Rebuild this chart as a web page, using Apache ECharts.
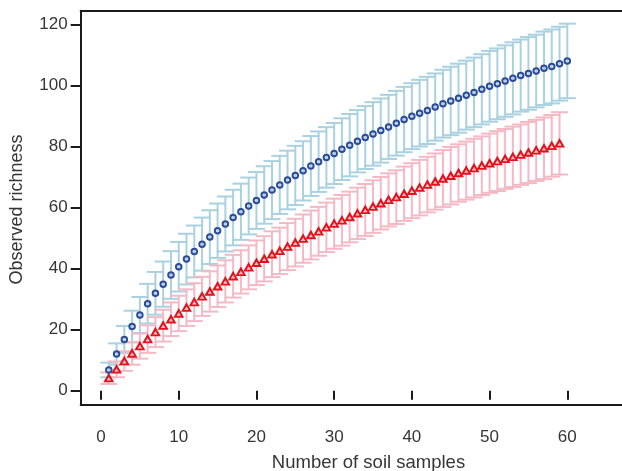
<!DOCTYPE html>
<html>
<head>
<meta charset="utf-8">
<script src="https://cdn.jsdelivr.net/npm/echarts@6/dist/echarts.min.js"></script>
<style>
  html, body { margin: 0; padding: 0; background: #ffffff; }
  #chart { width: 622px; height: 471px; }
</style>
</head>
<body>
<div id="chart"></div>
<script>
// Rarefaction curves: mean observed richness (± SD) against number of soil samples
const blueSamples = [1,2,3,4,5,6,7,8,9,10,11,12,13,14,15,16,17,18,19,20,
  21,22,23,24,25,26,27,28,29,30,31,32,33,34,35,36,37,38,39,40,
  41,42,43,44,45,46,47,48,49,50,51,52,53,54,55,56,57,58,59,60];
const blueMean = [6.8,12.0,16.8,21.0,24.8,28.5,31.9,34.9,37.9,40.6,
  43.1,45.6,48.0,50.3,52.4,54.6,56.7,58.6,60.5,62.3,
  64.1,65.7,67.4,69.0,70.5,72.0,73.6,75.0,76.4,77.7,
  79.1,80.4,81.7,82.9,84.1,85.2,86.4,87.6,88.8,89.9,
  90.9,91.8,92.9,94.0,94.9,95.8,96.8,97.7,98.7,99.7,
  100.5,101.4,102.3,103.2,103.9,104.7,105.6,106.2,107.1,108.0];
const blueSd = [2.4,3.5,4.4,5.2,5.9,6.5,7.0,7.4,7.8,8.1,
  8.3,8.5,8.7,8.8,8.9,9.0,9.1,9.2,9.3,9.3,
  9.4,9.5,9.5,9.6,9.7,9.7,9.8,9.9,9.9,10.0,
  10.1,10.2,10.2,10.3,10.4,10.5,10.5,10.6,10.7,10.8,
  10.9,11.0,11.0,11.1,11.2,11.3,11.3,11.4,11.5,11.6,
  11.6,11.7,11.8,11.8,11.9,11.9,12.0,12.1,12.1,12.2];

const redSamples = [1,2,3,4,5,6,7,8,9,10,11,12,13,14,15,16,17,18,19,20,
  21,22,23,24,25,26,27,28,29,30,31,32,33,34,35,36,37,38,39,40,
  41,42,43,44,45,46,47,48,49,50,51,52,53,54,55,56,57,58,59];
const redMean = [4.1,7.0,9.7,12.2,14.6,16.9,19.2,21.3,23.4,25.3,
  27.2,29.0,30.9,32.5,34.2,35.8,37.5,38.9,40.4,41.9,
  43.2,44.7,45.8,47.2,48.5,49.8,51.0,52.2,53.5,54.7,
  55.8,56.9,58.1,59.2,60.3,61.4,62.5,63.4,64.5,65.5,
  66.5,67.5,68.5,69.5,70.4,71.3,72.1,72.9,73.7,74.5,
  75.2,75.9,76.6,77.3,78.0,78.7,79.4,80.2,81.0];
const redSd = [1.9,2.6,3.2,3.7,4.1,4.5,4.9,5.2,5.5,5.8,
  6.0,6.2,6.4,6.6,6.8,6.9,7.0,7.1,7.2,7.3,
  7.4,7.5,7.6,7.7,7.8,7.9,8.0,8.0,8.1,8.2,
  8.3,8.3,8.4,8.5,8.6,8.6,8.7,8.8,8.9,9.0,
  9.1,9.1,9.2,9.3,9.4,9.4,9.5,9.6,9.6,9.7,
  9.8,9.8,9.9,9.9,10.0,10.0,10.1,10.1,10.2];

const xTicks = [0, 10, 20, 30, 40, 50, 60];
const yTicks = [0, 20, 40, 60, 80, 100, 120];

const FONT = "'Liberation Sans', Arial, Helvetica, sans-serif";
const TEXT = '#363636';
const AXIS = '#1a1a1a';

function points(xs, ys) {
  return xs.map((x, i) => [x, ys[i]]);
}
function bars(xs, ys, sd) {
  return xs.map((x, i) => [x, ys[i] - sd[i], ys[i] + sd[i]]);
}
function errorBars(color) {
  const half = 8.5;
  return function (params, api) {
    const x = api.value(0);
    const lo = api.coord([x, api.value(1)]);
    const hi = api.coord([x, api.value(2)]);
    const style = { stroke: color, lineWidth: 2, fill: null };
    return {
      type: 'group',
      children: [
        { type: 'line', shape: { x1: lo[0], y1: lo[1], x2: hi[0], y2: hi[1] }, style },
        { type: 'line', shape: { x1: hi[0] - half, y1: hi[1], x2: hi[0] + half, y2: hi[1] }, style },
        { type: 'line', shape: { x1: lo[0] - half, y1: lo[1], x2: lo[0] + half, y2: lo[1] }, style }
      ]
    };
  };
}

const xRange = { min: -2.615, max: 67.04 };
const chart = echarts.init(document.getElementById('chart'), null, { renderer: 'canvas' });

chart.setOption({
  animation: false,
  backgroundColor: '#ffffff',
  grid: { left: 80.7, top: 10.7, right: -2, bottom: 66.5, containLabel: false },
  xAxis: [
    { // bottom frame line
      type: 'value', position: 'bottom', min: xRange.min, max: xRange.max,
      axisLine: { show: true, onZero: false, lineStyle: { color: AXIS, width: 2 } },
      axisTick: { show: false }, axisLabel: { show: false }, splitLine: { show: false }
    },
    { // ticks and labels, set slightly below the frame
      type: 'value', position: 'bottom', offset: 3, min: xRange.min, max: xRange.max,
      axisLine: { show: false },
      axisTick: { show: true, length: 9, customValues: xTicks, lineStyle: { color: AXIS, width: 2 } },
      axisLabel: { show: true, customValues: xTicks, margin: 21, color: TEXT, fontSize: 17, fontFamily: FONT },
      splitLine: { show: false }
    },
    { // top frame line
      type: 'value', position: 'top', min: xRange.min, max: xRange.max,
      axisLine: { show: true, onZero: false, lineStyle: { color: AXIS, width: 2 } },
      axisTick: { show: false }, axisLabel: { show: false }, splitLine: { show: false }
    }
  ],
  yAxis: {
    type: 'value', min: -4.52, max: 124.45,
    axisLine: { show: true, onZero: false, lineStyle: { color: AXIS, width: 2 } },
    axisTick: { show: true, length: 10, customValues: yTicks, lineStyle: { color: AXIS, width: 2 } },
    axisLabel: { show: true, customValues: yTicks, margin: 13, color: TEXT, fontSize: 17, fontFamily: FONT },
    splitLine: { show: false }
  },
  graphic: [
    {
      type: 'text', x: 368.5, y: 463,
      style: { text: 'Number of soil samples', fill: TEXT, font: '18.5px ' + FONT,
               textAlign: 'center', textVerticalAlign: 'middle' }
    },
    {
      type: 'text', x: 17, y: 209.5, rotation: Math.PI / 2,
      style: { text: 'Observed richness', fill: TEXT, font: '18px ' + FONT,
               textAlign: 'center', textVerticalAlign: 'middle' }
    }
  ],
  series: [
    {
      type: 'custom', name: 'blue sd', xAxisIndex: 0,
      renderItem: errorBars('#a9d1df'),
      encode: { x: 0, y: [1, 2] },
      data: bars(blueSamples, blueMean, blueSd), z: 1
    },
    {
      type: 'custom', name: 'red sd', xAxisIndex: 0,
      renderItem: errorBars('#f5b9c6'),
      encode: { x: 0, y: [1, 2] },
      data: bars(redSamples, redMean, redSd), z: 2
    },
    {
      type: 'scatter', name: 'blue', xAxisIndex: 0,
      symbol: 'circle', symbolSize: 5.5,
      itemStyle: { color: 'rgba(255,255,255,0)', borderColor: '#2c4b9b', borderWidth: 2, opacity: 1 },
      data: points(blueSamples, blueMean), z: 3
    },
    {
      type: 'scatter', name: 'red', xAxisIndex: 0,
      symbol: 'triangle', symbolSize: [7.5, 6.5],
      itemStyle: { color: 'rgba(255,255,255,0)', borderColor: '#e3121b', borderWidth: 2, opacity: 1 },
      data: points(redSamples, redMean), z: 4
    }
  ]
});
</script>
</body>
</html>
